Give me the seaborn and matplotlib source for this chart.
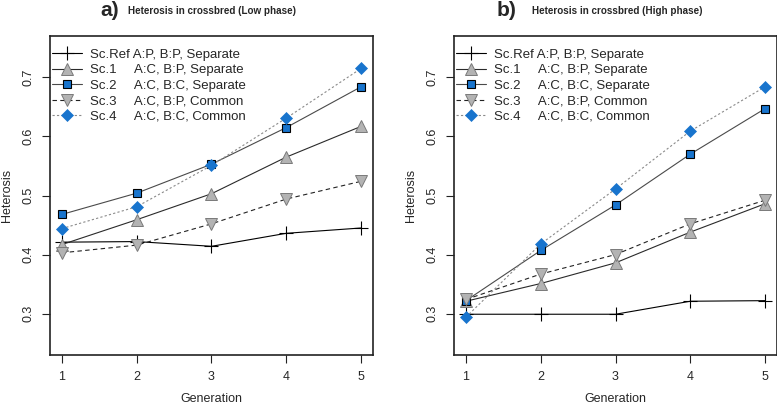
import matplotlib
matplotlib.use("Agg")
import matplotlib.pyplot as plt
import pandas as pd
import seaborn as sns

# data
generation = [1, 2, 3, 4, 5]
scenarios = ["Sc.Ref", "Sc.1", "Sc.2", "Sc.3", "Sc.4"]
legend_labels = [
    "Sc.Ref A:P, B:P, Separate",
    "Sc.1     A:C, B:P, Separate",
    "Sc.2     A:C, B:C, Separate",
    "Sc.3     A:C, B:P, Common",
    "Sc.4     A:C, B:C, Common",
]

low_ref = [0.421, 0.422, 0.414, 0.436, 0.445]
low_sc1 = [0.417, 0.459, 0.503, 0.565, 0.617]
low_sc2 = [0.468, 0.504, 0.553, 0.615, 0.684]
low_sc3 = [0.403, 0.416, 0.452, 0.494, 0.524]
low_sc4 = [0.444, 0.481, 0.551, 0.631, 0.715]

high_ref = [0.299, 0.299, 0.299, 0.321, 0.322]
high_sc1 = [0.321, 0.351, 0.386, 0.438, 0.486]
high_sc2 = [0.322, 0.407, 0.484, 0.570, 0.647]
high_sc3 = [0.324, 0.367, 0.400, 0.452, 0.492]
high_sc4 = [0.294, 0.418, 0.511, 0.609, 0.684]

panels = [
    ("a)", "Heterosis in crossbred (Low phase)", [low_ref, low_sc1, low_sc2, low_sc3, low_sc4]),
    ("b)", "Heterosis in crossbred (High phase)", [high_ref, high_sc1, high_sc2, high_sc3, high_sc4]),
]

BLUE = "#1874CD"
GREY = "#B3B3B3"
styles = {
    "Sc.Ref": dict(color="black", linestyle="-", marker="+", markersize=9.5,
                   markeredgewidth=0.8, markeredgecolor="black"),
    "Sc.1": dict(color="#2a2a2a", linestyle="-", marker="^", markersize=9,
                 markerfacecolor=GREY, markeredgecolor="#7a7a7a", markeredgewidth=0.7),
    "Sc.2": dict(color="#4a4a4a", linestyle="-", marker="s", markersize=5.8,
                 markerfacecolor=BLUE, markeredgecolor="black", markeredgewidth=0.8),
    "Sc.3": dict(color="#222222", linestyle=(0, (4, 3)), marker="v", markersize=9,
                 markerfacecolor=GREY, markeredgecolor="#7a7a7a", markeredgewidth=0.7),
    "Sc.4": dict(color="#8a8a8a", linestyle=(0, (2, 2)), marker="D", markersize=5.8,
                 markerfacecolor=BLUE, markeredgecolor=BLUE, markeredgewidth=0.5),
}

sns.set_style("ticks")
plt.rcParams["font.family"] = ["Liberation Sans", "DejaVu Sans"]
plt.rcParams["axes.edgecolor"] = "#222222"

fig = plt.figure(figsize=(7.77, 4.05), dpi=100)
W, H = 777, 405
axes_left = [50, 454]
title_x = [(100, 128), (497, 532)]

for i, (tag, title, series) in enumerate(panels):
    ax = fig.add_axes([axes_left[i] / W, (H - 355) / H, 323 / W, 319 / H])
    for name, values in zip(scenarios, series):
        df = pd.DataFrame({"Generation": generation, "Heterosis": values})
        sns.lineplot(data=df, x="Generation", y="Heterosis", ax=ax,
                     errorbar=None, linewidth=0.8, label=name, **styles[name])

    ax.set_xlim(0.84, 5.16)
    ax.set_ylim(0.23, 0.77)
    ax.set_xticks(generation)
    ax.set_yticks([0.3, 0.4, 0.5, 0.6, 0.7])
    ax.set_yticklabels(["0.3", "0.4", "0.5", "0.6", "0.7"], rotation=90, va="center")
    ax.tick_params(axis="both", labelsize=9, length=5.5, width=0.8, pad=6, color="#222222")
    for sp in ax.spines.values():
        sp.set_linewidth(1.2)

    ax.set_xlabel("Generation", fontsize=9)
    ax.set_ylabel("Heterosis", fontsize=9)
    ax.xaxis.set_label_coords(0.5, -0.12)
    ax.yaxis.set_label_coords(-0.115, 0.5)

    handles, _ = ax.get_legend_handles_labels()
    ax.legend(handles, legend_labels, loc="upper left", bbox_to_anchor=(0.006, 0.961),
              frameon=False, fontsize=9.5, handlelength=2.3, handletextpad=0.6,
              labelspacing=0.25, borderaxespad=0, borderpad=0)

    tx, sx = title_x[i]
    fig.text(tx / W, 1 - 11 / H, tag, fontsize=15, fontweight="bold", va="center", ha="left")
    fig.text(sx / W, 1 - 11 / H, title, fontsize=7.1, fontweight="bold", va="center", ha="left")

fig.savefig("out.png", dpi=100)
